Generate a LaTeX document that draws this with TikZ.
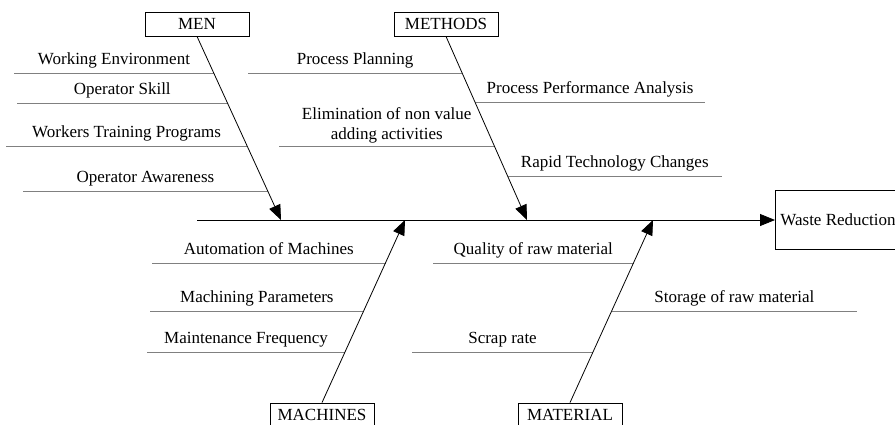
\documentclass[tikz,border=0pt]{standalone}
\usepackage{fontspec}
\setmainfont{Liberation Serif}
\usetikzlibrary{arrows.meta}
\tikzstyle{every node}=[font=\fontsize{17}{20.4}\selectfont]
\tikzstyle{cat}=[draw, minimum width=104pt, minimum height=24pt, inner sep=0pt]
\tikzstyle{bone}=[draw=gray]
\tikzstyle{cause}=[midway, above, text depth=0pt, inner sep=0pt, yshift=8pt]

\begin{document}
\begin{tikzpicture}[>={Triangle[length=15pt,width=12pt]}, x=1pt, y=-1pt, line width=0.8pt]
            \useasboundingbox (0,0) rectangle (895,424);

            % category boxes
            \node [cat] (men) at (197,24) {MEN};
            \node [cat] (methods) at (446,24) {METHODS};
            \node [cat] (machines) at (322,415) {MACHINES};
            \node [cat] (material) at (570,415) {MATERIAL};
            \node [draw, anchor=west, minimum height=59pt, inner sep=5pt] (waste) at (775,220) {Waste Reduction};

            \coordinate (tail) at (197,220);
            \coordinate (menhead) at (281,220);
            \coordinate (methodshead) at (527,220);
            \coordinate (machineshead) at (405,220);
            \coordinate (materialhead) at (653,220);

            % men causes
            \coordinate (menA) at (14,73);   \coordinate (menA1) at (213.9,73);
            \coordinate (menB) at (17,103);  \coordinate (menB1) at (227.6,103);
            \coordinate (menC) at (6,146);   \coordinate (menC1) at (247.2,146);
            \coordinate (menD) at (23,191);  \coordinate (menD1) at (267.8,191);

            % methods causes
            \coordinate (metA) at (248,73);  \coordinate (metA1) at (462.3,73);
            \coordinate (metB) at (475.1,102); \coordinate (metB1) at (705,102);
            \coordinate (metC) at (279,146); \coordinate (metC1) at (494.4,146);
            \coordinate (metD) at (507.6,176); \coordinate (metD1) at (722,176);

            % machines causes
            \coordinate (macA) at (152,263); \coordinate (macA1) at (385.5,263);
            \coordinate (macB) at (150,311); \coordinate (macB1) at (363.7,311);
            \coordinate (macC) at (147,352); \coordinate (macC1) at (345.1,352);

            % material causes
            \coordinate (matA) at (433,263); \coordinate (matA1) at (633.5,263);
            \coordinate (matB) at (611.7,311); \coordinate (matB1) at (857,311);
            \coordinate (matC) at (412,352); \coordinate (matC1) at (593.1,352);

            \draw [bone] (menA) -- (menA1) node [cause] {Working Environment};
            \draw [bone] (menB) -- (menB1) node [cause] {Operator Skill};
            \draw [bone] (menC) -- (menC1) node [cause] {Workers Training Programs};
            \draw [bone] (menD) -- (menD1) node [cause] {Operator Awareness};

            \draw [bone] (metA) -- (metA1) node [cause] {Process Planning};
            \draw [bone] (metB) -- (metB1) node [cause] {Process Performance Analysis};
            \draw [bone] (metC) -- (metC1) node [cause, align=center, yshift=-2pt] {Elimination of non value\\adding activities};
            \draw [bone] (metD) -- (metD1) node [cause] {Rapid Technology Changes};

            \draw [bone] (macA) -- (macA1) node [cause] {Automation of Machines};
            \draw [bone] (macB) -- (macB1) node [cause] {Machining Parameters};
            \draw [bone] (macC) -- (macC1) node [cause] {Maintenance Frequency};

            \draw [bone] (matA) -- (matA1) node [cause] {Quality of raw material};
            \draw [bone] (matB) -- (matB1) node [cause] {Storage of raw material};
            \draw [bone] (matC) -- (matC1) node [cause] {Scrap rate};

            \draw [->] (tail) -- (waste);
            \draw [->] (men.south) -- (menhead);
            \draw [->] (methods.south) -- (methodshead);
            \draw [->] (machines.north) -- (machineshead);
            \draw [->] (material.north) -- (materialhead);
        \end{tikzpicture}
\end{document}
